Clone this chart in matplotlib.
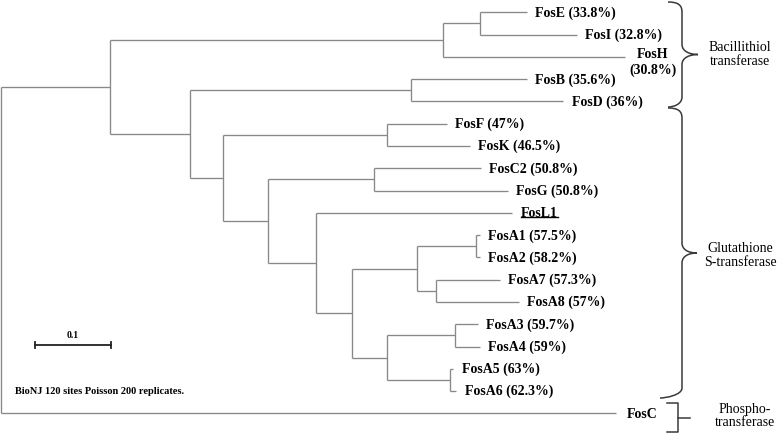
import matplotlib
matplotlib.use("Agg")
import matplotlib.pyplot as plt
from matplotlib.path import Path
from matplotlib.patches import PathPatch
from matplotlib.lines import Line2D

# ---------------- data ----------------
node_names = ["root", "N1", "N_EIH", "N_EI", "FosE", "FosI", "FosH",
              "N2", "N_BD", "FosB", "FosD",
              "N3", "N_FK", "FosF", "FosK",
              "N4", "N_C2G", "FosC2", "FosG",
              "N5", "FosL1", "N6",
              "N7", "N_A12", "FosA1", "FosA2", "N_A78", "FosA7", "FosA8",
              "N8", "N_A34", "FosA3", "FosA4", "N_A56", "FosA5", "FosA6",
              "FosC"]
parents = [None, "root", "N1", "N_EIH", "N_EI", "N_EI", "N_EIH",
           "N1", "N2", "N_BD", "N_BD",
           "N2", "N3", "N_FK", "N_FK",
           "N3", "N4", "N_C2G", "N_C2G",
           "N4", "N5", "N5",
           "N6", "N7", "N_A12", "N_A12", "N7", "N_A78", "N_A78",
           "N6", "N8", "N_A34", "N_A34", "N8", "N_A56", "N_A56",
           "root"]
branch_lengths = [0.0, 0.143, 0.438, 0.049, 0.062, 0.128, 0.240,
                  0.106, 0.290, 0.153, 0.201,
                  0.043, 0.216, 0.079, 0.109,
                  0.059, 0.140, 0.140, 0.176,
                  0.064, 0.258, 0.047,
                  0.085, 0.078, 0.005, 0.005, 0.026, 0.083, 0.108,
                  0.046, 0.089, 0.030, 0.033, 0.083, 0.004, 0.008,
                  0.809]
leaf_order = ["FosE", "FosI", "FosH", "FosB", "FosD", "FosF", "FosK", "FosC2",
              "FosG", "FosL1", "FosA1", "FosA2", "FosA7", "FosA8", "FosA3",
              "FosA4", "FosA5", "FosA6", "FosC"]
identity_pct = [33.8, 32.8, 30.8, 35.6, 36, 47, 46.5, 50.8, 50.8, None,
                57.5, 58.2, 57.3, 57, 59.7, 59, 63, 62.3, None]
group_labels = ["Bacillithiol\ntransferase", "Glutathione\nS-transferase",
                "Phospho-\ntransferase"]
scale_bar_length = 0.1
footnote = "BioNJ 120 sites Poisson 200 replicates."

# ---------------- layout helpers ----------------
W, H = 777, 434
PX_PER_UNIT = 760.0
ROW_PX = 22.28
TOP_PX = 12.3


def X(px):
    return (px - 1) / PX_PER_UNIT


def Y(py):
    return (py - TOP_PX) / ROW_PX


fig = plt.figure(figsize=(W / 100, H / 100), dpi=100)
ax = fig.add_axes([0, 0, 1, 1])
ax.set_xlim(X(0), X(W))
ax.set_ylim(Y(H), Y(0))
ax.axis("off")

# ---------------- tree geometry ----------------
parent_of = dict(zip(node_names, parents))
blen = dict(zip(node_names, branch_lengths))
children = {n: [] for n in node_names}
for n, p in zip(node_names, parents):
    if p is not None:
        children[p].append(n)

xpos = {}
for n in node_names:
    p = parent_of[n]
    xpos[n] = 0.0 if p is None else xpos[p] + blen[n]

ypos = {}


def get_y(n):
    if n in ypos:
        return ypos[n]
    if not children[n]:
        ypos[n] = leaf_order.index(n)
    else:
        ys = [get_y(c) for c in children[n]]
        ypos[n] = (min(ys) + max(ys)) / 2
    return ypos[n]


for n in node_names:
    get_y(n)

tree_col = "#888888"
tlw = 0.95
for n in node_names:
    p = parent_of[n]
    if p is not None:
        ax.plot([xpos[p], xpos[n]], [ypos[n], ypos[n]], color=tree_col,
                lw=tlw, solid_capstyle="butt")
    if children[n]:
        ys = [ypos[c] for c in children[n]]
        ax.plot([xpos[n], xpos[n]], [min(ys), max(ys)], color=tree_col,
                lw=tlw, solid_capstyle="butt")

# ---------------- leaf labels ----------------
lab_font = dict(family=["Liberation Serif", "DejaVu Serif"], weight="bold",
                size=10)
fosl1_text = None
for name, pct in zip(leaf_order, identity_pct):
    x, y = xpos[name], ypos[name]
    if name == "FosH":
        ax.annotate(f"{name}\n({pct:g}%)", (x, Y(62.5)), xytext=(3, 0),
                    textcoords="offset points", ha="left", va="center",
                    multialignment="center", linespacing=1.15, **lab_font)
        continue
    txt = name if pct is None else f"{name} ({pct:g}%)"
    off = 8 if name == "FosC" else 6
    t = ax.annotate(txt, (x, y), xytext=(off, -0.5), textcoords="offset points",
                    ha="left", va="center", **lab_font)
    if name == "FosL1":
        fosl1_text = t

# underline FosL1
fig.canvas.draw()
renderer = fig.canvas.get_renderer()
bb = fosl1_text.get_window_extent(renderer)
uy = bb.y0 + 3
fig.add_artist(Line2D([bb.x0 / W, bb.x1 / W], [uy / H, uy / H],
                      color="black", lw=1.0, transform=fig.transFigure))

# ---------------- braces ----------------
br_col = "#3a3a3a"


def brace(top_py, bot_py, top_x, bot_x, spine_x, tip_x):
    mid = (top_py + bot_py) / 2
    r = 10
    verts = [
        (top_x, top_py),
        (spine_x - 4, top_py), (spine_x, top_py + 3), (spine_x, top_py + r),
        (spine_x, mid - r),
        (spine_x, mid - 3), (tip_x - 8, mid), (tip_x, mid),
        (tip_x - 8, mid), (spine_x, mid + 3), (spine_x, mid + r),
        (spine_x, bot_py - r),
        (spine_x, bot_py - 3), (bot_x + 6, bot_py), (bot_x, bot_py),
    ]
    codes = [Path.MOVETO,
             Path.CURVE4, Path.CURVE4, Path.CURVE4,
             Path.LINETO,
             Path.CURVE4, Path.CURVE4, Path.CURVE4,
             Path.CURVE4, Path.CURVE4, Path.CURVE4,
             Path.LINETO,
             Path.CURVE4, Path.CURVE4, Path.CURVE4]
    verts = [(X(a), Y(b)) for a, b in verts]
    ax.add_patch(PathPatch(Path(verts, codes), fill=False, edgecolor=br_col,
                           lw=1.1))


brace(2, 107, 668, 668, 682, 698)
brace(108, 398, 668, 660, 682, 697)

# square bracket for FosC
ax.plot([X(667), X(678), X(678), X(667)], [Y(403), Y(403), Y(432), Y(432)],
        color=br_col, lw=1.1)
ax.plot([X(678), X(690)], [Y(418), Y(418)], color=br_col, lw=1.1)

grp_font = dict(family=["Liberation Serif", "DejaVu Serif"], size=10)
ax.text(X(740), Y(54.5), group_labels[0], ha="center", va="center",
        linespacing=1.15, **grp_font)
ax.text(X(740), Y(255.5), group_labels[1], ha="center", va="center",
        linespacing=1.15, **grp_font)
ax.text(X(745), Y(416.5), group_labels[2], ha="center", va="center",
        linespacing=1.0, **grp_font)

# ---------------- scale bar ----------------
sb_x0 = X(35)
sb_y = Y(345)
ax.plot([sb_x0, sb_x0 + scale_bar_length], [sb_y, sb_y], color="#222222",
        lw=1.3)
for xx in (sb_x0, sb_x0 + scale_bar_length):
    ax.plot([xx, xx], [sb_y - 0.14, sb_y + 0.14], color="#222222", lw=1.3)
ax.text(sb_x0 + scale_bar_length / 2, Y(336), f"{scale_bar_length:g}",
        ha="center", va="center", family=["Liberation Serif"],
        weight="bold", size=7)

ax.text(X(15), Y(392), footnote, ha="left", va="center",
        family=["Liberation Serif"], weight="bold", size=7.5)

fig.savefig("out.png", dpi=100)
